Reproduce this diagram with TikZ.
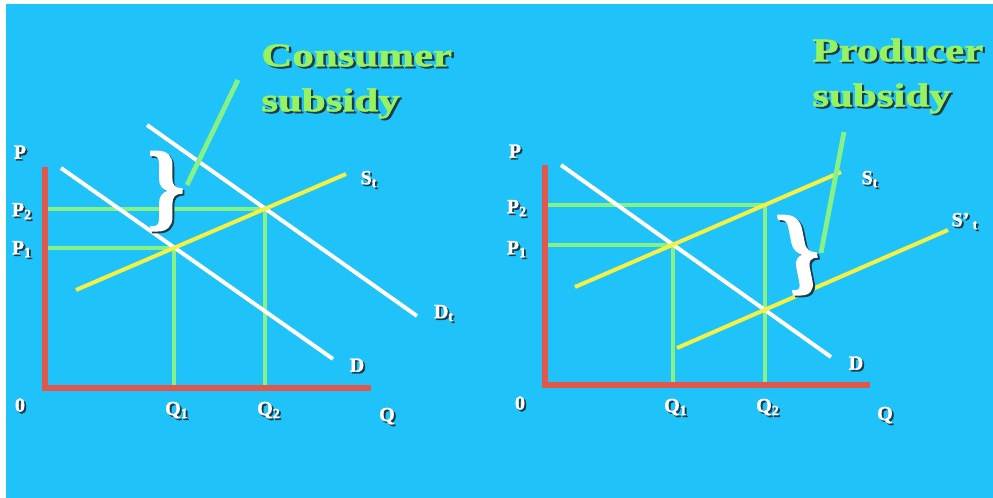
\documentclass[tikz,border=0pt]{standalone}
\usepackage{graphicx}
\usepackage{fontspec}
\setmainfont{Liberation Serif}[BoldFeatures={FakeBold=1.5}]
\definecolor{slideBlue}{HTML}{1FC3F9}
\definecolor{axisRed}{HTML}{E2574C}
\definecolor{guideGreen}{HTML}{86F286}
\definecolor{supplyYellow}{HTML}{F4F044}
\definecolor{titleGreen}{HTML}{96F25E}
\definecolor{shadowInk}{HTML}{1B3A4A}
\newcommand{\dropshade}[1]{\makebox[0pt][l]{\hspace{0.9pt}\raisebox{-0.9pt}{\color{shadowInk}#1}}#1}
\newcommand{\wideword}[1]{\scalebox{1.3}[1]{\dropshade{#1}}}
\tikzset{
  every picture/.style={font=\bfseries},
  econ axis/.style={draw=axisRed, line width=2.6pt},
  econ demand/.style={draw=white, line width=2pt},
  econ supply/.style={draw=supplyYellow, line width=2pt},
  econ guide/.style={draw=guideGreen, line width=2pt},
  econ pointer/.style={draw=guideGreen, line width=2.4pt},
  econ label/.style={text=white, font=\bfseries\fontsize{10}{12}\selectfont, inner sep=0pt},
  econ title/.style={text=titleGreen, font=\bfseries\fontsize{16.5}{22.5}\selectfont,
    align=left, anchor=north west, inner sep=0pt},
  econ brace/.style={text=white, font=\bfseries\fontsize{48}{48}\selectfont, inner sep=0pt}
}
\begin{document}
\begin{tikzpicture}[x=0.5pt,y=-0.5pt]
  \useasboundingbox (0,0) rectangle (993,498);
  \fill[white] (0,0) rectangle (993,498);
  \fill[slideBlue] (6,4) rectangle (993,498);

  % consumer subsidy
  \coordinate (yTopL) at (45,167);
  \coordinate (origL) at (45,388);
  \coordinate (xEndL) at (371,388);
  \coordinate (dA) at (61,168);
  \coordinate (dB) at (333,359);
  \coordinate (dtA) at (147,125);
  \coordinate (dtB) at (417,316);
  \coordinate (sA) at (76,290);
  \coordinate (sB) at (346,174);
  \coordinate (eqL1) at (intersection of dA--dB and sA--sB);
  \coordinate (eqL2) at (intersection of dtA--dtB and sA--sB);
  \draw[econ guide] (eqL2) -- (eqL2 -| origL);
  \draw[econ guide] (eqL1) -- (eqL1 -| origL);
  \draw[econ guide] (eqL1) -- (eqL1 |- origL);
  \draw[econ guide] (eqL2) -- (eqL2 |- origL);
  \draw[econ demand] (dA) -- (dB);
  \draw[econ demand] (dtA) -- (dtB);
  \draw[econ supply] (sA) -- (sB);
  \draw[econ axis] (yTopL) -- (origL) -- (xEndL);
  \node[econ brace] (braceL) at (166,192) {\dropshade{\}}};
  \coordinate (ptrL) at (238,80);
  \coordinate (ptrLend) at (187,185);
  \draw[econ pointer] (ptrL) -- (ptrLend);
  \node[econ title] (titleL) at (261,44) {\wideword{Consumer}\\\wideword{subsidy}};
  \node[econ label] (pL) at (20,153) {\dropshade{P}};
  \node[econ label] (p2L) at (22,212) {\dropshade{P\textsubscript{2}}};
  \node[econ label] (p1L) at (22,250) {\dropshade{P\textsubscript{1}}};
  \node[econ label] (zeroL) at (20,406) {\dropshade{0}};
  \node[econ label] (q1L) at (177,411) {\dropshade{Q\textsubscript{1}}};
  \node[econ label] (q2L) at (269,411) {\dropshade{Q\textsubscript{2}}};
  \node[econ label] (qL) at (387,417) {\dropshade{Q}};
  \node[econ label] (stL) at (369,180) {\dropshade{S\textsubscript{t}}};
  \node[econ label] (dtL) at (444,314) {\dropshade{D\textsubscript{t}}};
  \node[econ label] (dL) at (357,366) {\dropshade{D}};

  % producer subsidy
  \coordinate (yTopR) at (545,165);
  \coordinate (origR) at (545,385);
  \coordinate (xEndR) at (870,385);
  \coordinate (rdA) at (561,165);
  \coordinate (rdB) at (831,357);
  \coordinate (rsA) at (575,287);
  \coordinate (rsB) at (841,172);
  \coordinate (rspA) at (677,348);
  \coordinate (rspB) at (948,230);
  \coordinate (eqR1) at (intersection of rdA--rdB and rsA--rsB);
  \coordinate (eqR2) at (intersection of rdA--rdB and rspA--rspB);
  \coordinate (upR2) at (eqR2 |- rsB);
  \coordinate (prR2) at (intersection of rsA--rsB and eqR2--upR2);
  \draw[econ guide] (prR2) -- (prR2 -| origR);
  \draw[econ guide] (eqR1) -- (eqR1 -| origR);
  \draw[econ guide] (eqR1) -- (eqR1 |- origR);
  \draw[econ guide] (prR2) -- (prR2 |- origR);
  \draw[econ demand] (rdA) -- (rdB);
  \draw[econ supply] (rsA) -- (rsB);
  \draw[econ supply] (rspA) -- (rspB);
  \draw[econ axis] (yTopR) -- (origR) -- (xEndR);
  \node[econ brace, xslant=-0.2] (braceR) at (801,256) {\dropshade{\}}};
  \coordinate (ptrR) at (844,132);
  \coordinate (ptrRend) at (821,253);
  \draw[econ pointer] (ptrR) -- (ptrRend);
  \node[econ title] (titleR) at (812,38) {\wideword{Producer}\\\wideword{subsidy}};
  \node[econ label] (pR) at (515,152) {\dropshade{P}};
  \node[econ label] (p2R) at (517,209) {\dropshade{P\textsubscript{2}}};
  \node[econ label] (p1R) at (517,250) {\dropshade{P\textsubscript{1}}};
  \node[econ label] (zeroR) at (520,404) {\dropshade{0}};
  \node[econ label] (q1R) at (676,408) {\dropshade{Q\textsubscript{1}}};
  \node[econ label] (q2R) at (768,408) {\dropshade{Q\textsubscript{2}}};
  \node[econ label] (qR) at (885,416) {\dropshade{Q}};
  \node[econ label] (stR) at (870,180) {\dropshade{S\textsubscript{t}}};
  \node[econ label] (sptR) at (965,222) {\dropshade{S'\,\textsubscript{t}}};
  \node[econ label] (dR) at (856,364) {\dropshade{D}};
\end{tikzpicture}
\end{document}
